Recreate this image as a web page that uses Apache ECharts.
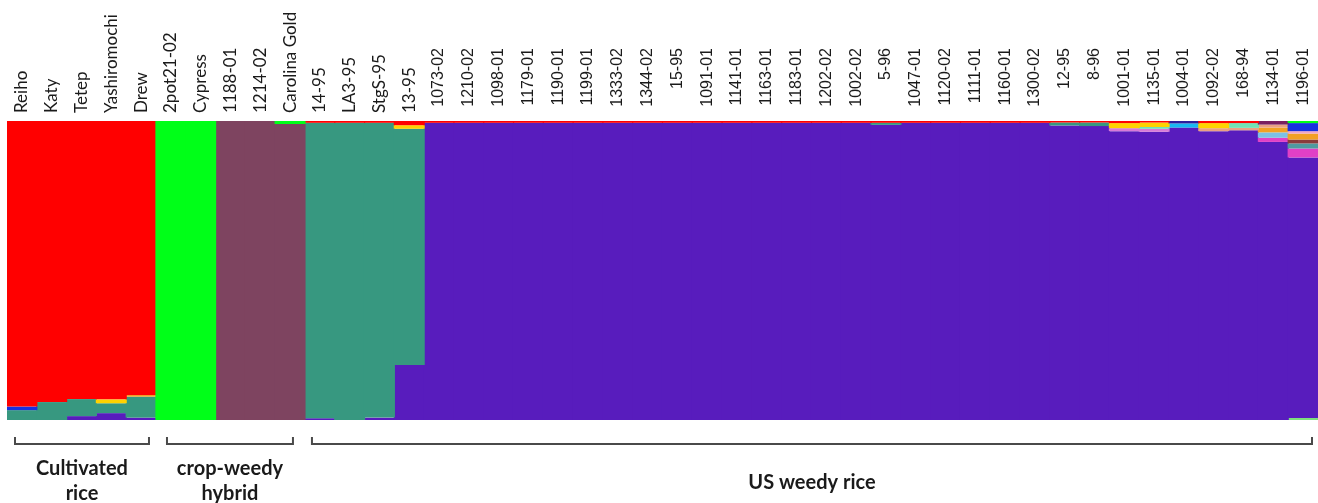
<!DOCTYPE html>
<html><head><meta charset="utf-8">
<script src="https://cdn.jsdelivr.net/npm/echarts@6/dist/echarts.min.js"></script>
<style>html,body{margin:0;padding:0;background:#fff}#c{width:1318px;height:503px}</style>
</head><body><div id="c"></div>
<script>
// Sample labels (x categories)
const samples = ['Reiho','Katy','Tetep','Yashiromochi','Drew','2pot21-02','Cypress','1188-01','1214-02','Carolina Gold',
  '14-95','LA3-95','StgS-95','13-95',
  '1073-02','1210-02','1098-01','1179-01','1190-01','1199-01','1333-02','1344-02','15-95','1091-01','1141-01','1163-01','1183-01','1202-02','1002-02',
  '5-96','1047-01','1120-02','1111-01','1160-01','1300-02','12-95','8-96',
  '1001-01','1135-01','1004-01','1092-02','168-94','1134-01','1196-01'];

// Membership fractions per cluster (groups of 5,5,4,15,1,5,2,7 samples)
const lime      = [0,0,0,0,0, 0,0,0,0,0, 0,0,0,0, 0,0,0,0,0,0,0,0,0,0,0,0,0,0,0, 0, 0,0,0,0,0, 0,0, 0,0,0,0,0,0,0.007];
const purple    = [0,0,0.013,0.023,0.008, 0,0,0,0,0, 0.006,0,0.008,0.184, 0.994,0.994,0.994,0.994,0.994,0.994,0.994,0.994,0.994,0.994,0.994,0.994,0.994,0.994,0.994, 0.987, 0.994,0.994,0.994,0.994,0.994, 0.985,0.983, 0.966,0.964,0.978,0.966,0.969,0.930,0.871];
const teal      = [0.033,0.06,0.057,0.033,0.07, 0,0,0,0,0, 0.988,0.994,0.986,0.79, 0,0,0,0,0,0,0,0,0,0,0,0,0,0,0, 0.007, 0,0,0,0,0, 0.01,0.012, 0,0,0,0,0,0,0];
const maroon    = [0,0,0,0,0, 0,0,1,1,0.99, 0,0,0,0, 0,0,0,0,0,0,0,0,0,0,0,0,0,0,0, 0, 0,0,0,0,0, 0,0, 0,0,0,0,0,0,0];
const magenta   = [0,0,0,0,0, 0,0,0,0,0, 0,0,0,0, 0,0,0,0,0,0,0,0,0,0,0,0,0,0,0, 0, 0,0,0,0,0, 0,0, 0,0,0,0,0,0.014,0.03];
const pink      = [0,0,0,0,0, 0,0,0,0,0, 0,0,0,0, 0,0,0,0,0,0,0,0,0,0,0,0,0,0,0, 0, 0,0,0,0,0, 0,0, 0.01,0.01,0,0,0,0,0];
const slate     = [0,0,0,0,0, 0,0,0,0,0, 0,0,0,0, 0,0,0,0,0,0,0,0,0,0,0,0,0,0,0, 0, 0,0,0,0,0, 0,0, 0,0,0,0,0,0,0.017];
const lightblue = [0,0,0,0,0, 0,0,0,0,0, 0,0,0,0, 0,0,0,0,0,0,0,0,0,0,0,0,0,0,0, 0, 0,0,0,0,0, 0,0, 0,0,0,0,0,0.018,0];
const brown     = [0,0,0,0,0, 0,0,0,0,0, 0,0,0,0, 0,0,0,0,0,0,0,0,0,0,0,0,0,0,0, 0, 0,0,0,0,0, 0,0, 0,0,0,0,0,0,0.013];
const orange    = [0,0,0,0,0.006, 0,0,0,0,0, 0,0,0,0, 0,0,0,0,0,0,0,0,0,0,0,0,0,0,0, 0, 0,0,0,0,0, 0,0, 0,0,0,0,0,0.016,0.02];
const cyan      = [0,0,0,0,0, 0,0,0,0,0, 0,0,0,0, 0,0,0,0,0,0,0,0,0,0,0,0,0,0,0, 0, 0,0,0,0,0, 0,0, 0,0,0.014,0,0,0,0];
const salmon    = [0,0,0,0,0, 0,0,0,0,0, 0,0,0,0, 0,0,0,0,0,0,0,0,0,0,0,0,0,0,0, 0, 0,0,0,0,0, 0,0, 0,0,0,0.01,0.008,0.01,0];
const lightpink = [0,0,0,0,0, 0,0,0,0,0, 0,0,0,0, 0,0,0,0,0,0,0,0,0,0,0,0,0,0,0, 0, 0,0,0,0,0, 0,0, 0,0,0,0,0,0,0.008];
const aqua      = [0,0,0,0,0, 0,0,0,0,0, 0,0,0,0, 0,0,0,0,0,0,0,0,0,0,0,0,0,0,0, 0, 0,0,0,0,0, 0,0, 0,0.006,0,0,0.016,0,0];
const yellow    = [0,0,0,0.013,0, 0,0,0,0,0, 0,0,0,0.012, 0,0,0,0,0,0,0,0,0,0,0,0,0,0,0, 0, 0,0,0,0,0, 0,0, 0.017,0.015,0,0.017,0,0,0];
const blue      = [0.012,0,0,0,0, 0,0,0,0,0, 0,0,0,0, 0,0,0,0,0,0,0,0,0,0,0,0,0,0,0, 0, 0,0,0,0,0, 0,0, 0,0,0,0,0,0,0.027];
const navy      = [0,0,0,0,0, 0,0,0,0,0, 0,0,0,0, 0,0,0,0,0,0,0,0,0,0,0,0,0,0,0, 0, 0,0,0,0,0, 0,0, 0,0,0.008,0,0,0,0];
const plum      = [0,0,0,0,0, 0,0,0,0,0, 0,0,0,0, 0,0,0,0,0,0,0,0,0,0,0,0,0,0,0, 0, 0,0,0,0,0, 0,0, 0,0,0,0,0,0.012,0];
const red       = [0.955,0.94,0.93,0.931,0.916, 0,0,0,0,0, 0.006,0.006,0.006,0.014, 0.006,0.006,0.006,0.006,0.006,0.006,0.006,0.006,0.006,0.006,0.006,0.006,0.006,0.006,0.006, 0.006, 0.006,0.006,0.006,0.006,0.006, 0.005,0.005, 0.007,0.005,0,0.007,0.007,0,0];
const green     = [0,0,0,0,0, 1,1,0,0,0.01, 0,0,0,0, 0,0,0,0,0,0,0,0,0,0,0,0,0,0,0, 0, 0,0,0,0,0, 0,0, 0,0,0,0,0,0,0.007];

// Group brackets below the plot
const groupNames = ['Cultivated\nrice', 'crop-weedy\nhybrid', 'US weedy rice'];
const groupFirst = [0, 5, 10];
const groupLast  = [4, 9, 43];

// Stack order (bottom to top) and colours
const clusters = [lime, purple, teal, maroon, magenta, pink, slate, lightblue, brown, orange, cyan, salmon, lightpink, aqua, yellow, blue, navy, plum, red, green];
const colors = ['#7ee07e','#581cbd','#379880','#7e4460','#e040c6','#d77ad8','#4f9aa0','#7cc0e6','#8a3b3b','#f2a025','#18b8f2','#eaa183','#f2a6c6','#72e3b4','#ffd200','#1830e0','#2c1e9c','#7a1f60','#ff0000','#00ff18'];

const chart = echarts.init(document.getElementById('c'), null, {renderer: 'canvas'});
const GRID = {left: 7, right: 0, top: 121, bottom: 83, containLabel: false, outerBoundsMode: 'none'};

const series = clusters.map((d, k) => ({
  type: 'bar', stack: 'q', data: d, barWidth: 31, barGap: '-100%',
  itemStyle: {color: colors[k], borderWidth: 0},
  silent: true, animation: false
}));

chart.setOption({
  animation: false,
  grid: GRID,
  xAxis: [
    {type: 'category', data: samples, position: 'top', boundaryGap: true,
     axisLine: {show: false}, axisTick: {show: false}, splitLine: {show: false},
     axisLabel: {interval: 0, rotate: 90, margin: 8, fontFamily: 'Lato', fontSize: 17, color: '#1a1a1a',
       formatter: (v, i) => i < 14 ? v : ''}},
    {type: 'category', data: samples, position: 'bottom', offset: -372, boundaryGap: true,
     axisLine: {show: false}, axisTick: {show: false}, splitLine: {show: false},
     axisLabel: {interval: 0, rotate: 90, margin: 0, fontFamily: 'Liberation Sans', fontSize: 16, color: '#1a1a1a',
       formatter: (v, i) => i >= 14 ? v : ''}}
  ],
  yAxis: {type: 'value', min: 0, max: 1, show: false},
  series: series
});

// Brackets and group titles, positioned from the category axis
function drawGroups() {
  const c0 = chart.convertToPixel({xAxisIndex: 0}, 0);
  const c1 = chart.convertToPixel({xAxisIndex: 0}, 1);
  const half = (c1 - c0) / 2;
  const insetL = [8, 11, 7], insetR = [7, 12, 6];
  const elements = [];
  groupNames.forEach((name, g) => {
    const x1 = chart.convertToPixel({xAxisIndex: 0}, groupFirst[g]) - half + insetL[g];
    const x2 = chart.convertToPixel({xAxisIndex: 0}, groupLast[g]) + half - insetR[g];
    elements.push({type: 'polyline', silent: true,
      shape: {points: [[x1, 437], [x1, 444], [x2, 444], [x2, 437]]},
      style: {stroke: '#4a4a4a', lineWidth: 2, fill: null}});
    const twoLine = name.indexOf('\n') >= 0;
    elements.push({type: 'text', silent: true, x: (x1 + x2) / 2, y: twoLine ? 481 : 483,
      style: {text: name, font: 'bold 20px Lato', fill: '#1a1a1a', align: 'center', verticalAlign: 'middle', lineHeight: 25}});
  });
  chart.setOption({graphic: {elements: elements}});
}
drawGroups();
</script>
</body></html>
